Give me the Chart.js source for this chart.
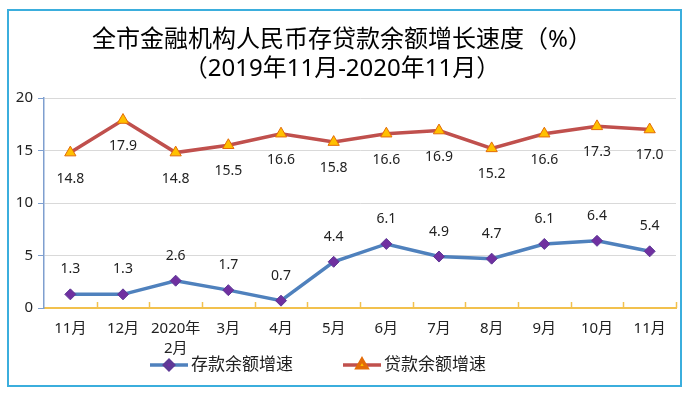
<!DOCTYPE html>
<html>
<head>
<meta charset="utf-8">
<script src="https://cdn.jsdelivr.net/npm/chart.js@4"></script>
<style>
  html, body { margin: 0; padding: 0; background: #fff; }
  #wrap { width: 688px; height: 393px; }
</style>
</head>
<body>
<div id="wrap"><canvas id="rate_chart"></canvas></div>
<script>
var months = ["11月", "12月", ["2020年", "2月"], "3月", "4月", "5月", "6月", "7月", "8月", "9月", "10月", "11月"];
var depositRate = [1.3, 1.3, 2.6, 1.7, 0.7, 4.4, 6.1, 4.9, 4.7, 6.1, 6.4, 5.4];
var loanRate = [14.8, 17.9, 14.8, 15.5, 16.6, 15.8, 16.6, 16.9, 15.2, 16.6, 17.3, 17.0];
var yTicks = [0, 5, 10, 15, 20];

var FONT = "'Noto Sans', 'Noto Sans CJK SC', sans-serif";

// frame round the whole picture
var framePlugin = {
  id: "frame",
  beforeDraw: function (chart) {
    var c = chart.ctx;
    c.save();
    c.fillStyle = "#fff";
    c.fillRect(0, 0, chart.width, chart.height);
    c.strokeStyle = "#3BAEDD";
    c.lineWidth = 2;
    c.strokeRect(8, 10, 673, 376);
    c.restore();
  },
};

// small yellow ticks standing up from the x axis, between categories
var xTickPlugin = {
  id: "xTicks",
  afterDraw: function (chart) {
    var xs = chart.scales.x;
    var c = chart.ctx;
    var w = xs.getPixelForTick(1) - xs.getPixelForTick(0);
    var x0 = xs.getPixelForTick(0) - w / 2;
    var y = chart.chartArea.bottom;
    c.save();
    c.strokeStyle = "#F2C14E";
    c.lineWidth = 1.5;
    for (var i = 1; i <= months.length; i++) {
      var x = Math.round(x0 + i * w) + 0.5;
      c.beginPath();
      c.moveTo(x, y);
      c.lineTo(x, y - 6);
      c.stroke();
    }
    c.restore();
  },
};

// value labels next to each point
var valueLabelPlugin = {
  id: "valueLabels",
  afterDatasetsDraw: function (chart) {
    var c = chart.ctx;
    c.save();
    c.font = "14px " + FONT;
    c.fillStyle = "#222";
    c.textAlign = "center";
    c.textBaseline = "middle";
    chart.data.datasets.forEach(function (ds, i) {
      var meta = chart.getDatasetMeta(i);
      meta.data.forEach(function (pt, j) {
        c.fillText(ds.data[j].toFixed(1), pt.x, pt.y + ds.labelOffset);
      });
    });
    c.restore();
  },
};

// legend: line with marker, then the name
var legendPlugin = {
  id: "lineLegend",
  afterDraw: function (chart) {
    var c = chart.ctx;
    var starts = [150, 343];
    var y = 365;
    c.save();
    chart.data.datasets.forEach(function (ds, i) {
      var x = starts[i];
      c.strokeStyle = ds.borderColor;
      c.lineWidth = ds.borderWidth;
      c.beginPath();
      c.moveTo(x, y);
      c.lineTo(x + 38, y);
      c.stroke();
      c.fillStyle = ds.pointBackgroundColor;
      c.strokeStyle = ds.pointBorderColor;
      Chart.helpers.drawPoint(c, {
        pointStyle: ds.pointStyle,
        radius: ds.pointRadius - 1,
        borderWidth: ds.pointBorderWidth,
        rotation: 0,
      }, x + 19, y);
      c.fillStyle = "#222";
      c.font = "17px " + FONT;
      c.textAlign = "left";
      c.textBaseline = "middle";
      c.fillText(ds.label, x + 41, y);
    });
    c.restore();
  },
};

var ctx = document.getElementById("rate_chart").getContext("2d");
var rate_chart = new Chart(ctx, {
  type: "line",
  data: {
    labels: months,
    datasets: [
      {
        label: "存款余额增速",
        data: depositRate,
        borderColor: "#4F81BD",
        borderWidth: 3.5,
        pointStyle: "rectRot",
        pointRadius: 5.5,
        pointBackgroundColor: "#7030A0",
        pointBorderColor: "#5E3A96",
        pointBorderWidth: 1,
        labelOffset: -25,
      },
      {
        label: "贷款余额增速",
        data: loanRate,
        borderColor: "#C0504D",
        borderWidth: 3.5,
        pointStyle: "triangle",
        pointRadius: 6.5,
        pointBackgroundColor: "#FFC000",
        pointBorderColor: "#E36C09",
        pointBorderWidth: 1,
        labelOffset: 26,
      },
    ],
  },
  options: {
    responsive: true,
    maintainAspectRatio: false,
    animation: false,
    layout: {
      padding: { left: 8, right: 12, top: 12, bottom: 30 },
    },
    scales: {
      x: {
        offset: true,
        grid: { display: false },
        border: { display: true, color: "#F2C14E", width: 2 },
        ticks: {
          color: "#222",
          font: { family: FONT, size: 15, lineHeight: 1.3 },
          padding: 3,
          maxRotation: 0,
          autoSkip: false,
        },
        afterFit: function (scale) {
          scale.height = 55;
        },
      },
      y: {
        min: 0,
        max: 20,
        afterBuildTicks: function (scale) {
          scale.ticks = yTicks.map(function (v) { return { value: v }; });
        },
        grid: {
          color: function (c) { return c.tick && c.tick.value === 0 ? "rgba(0,0,0,0)" : "#D9D9D9"; },
          tickColor: "#7F9FCF",
          tickLength: 6,
        },
        border: { display: true, color: "#7F9FCF", width: 1.5 },
        ticks: {
          color: "#222",
          font: { family: FONT, size: 15 },
          padding: 5,
        },
        afterFit: function (scale) {
          scale.width = 36;
        },
      },
    },
    plugins: {
      legend: { display: false },
      tooltip: { enabled: false },
      title: {
        display: true,
        text: ["全市金融机构人民币存贷款余额增长速度（%）", "（2019年11月-2020年11月）"],
        color: "#000",
        font: { family: FONT, size: 24, weight: "normal", lineHeight: 1.2 },
        padding: { top: 14, bottom: 14.4 },
      },
    },
  },
  plugins: [framePlugin, xTickPlugin, valueLabelPlugin, legendPlugin],
});
</script>
</body>
</html>
